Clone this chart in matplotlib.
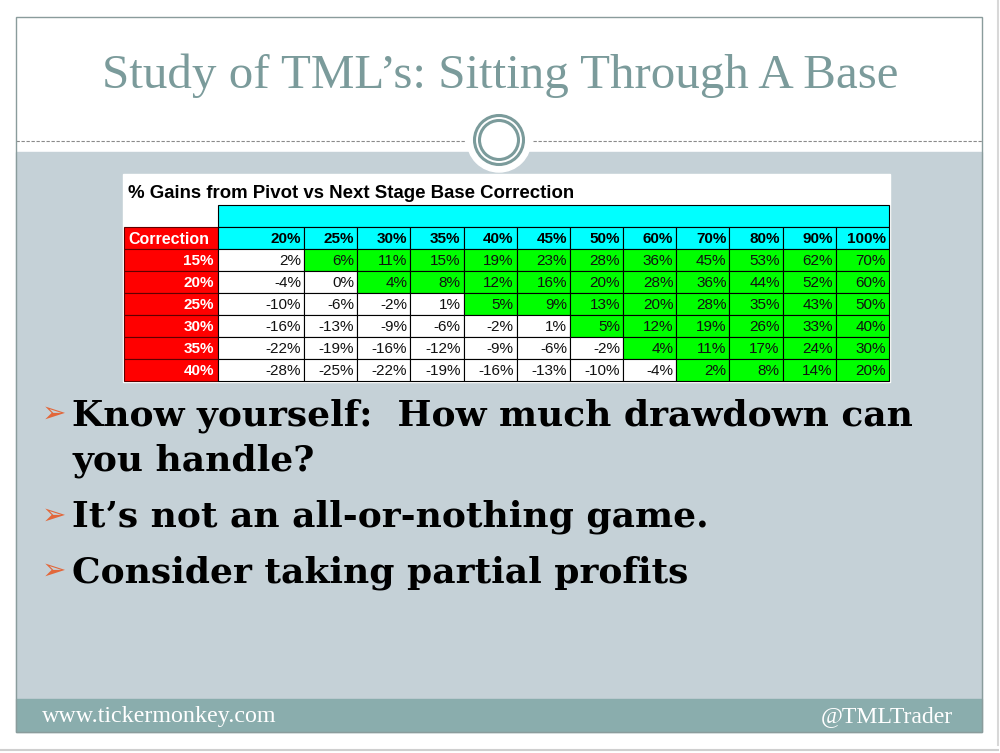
import matplotlib
matplotlib.use("Agg")
import matplotlib.pyplot as plt
from matplotlib.patches import Rectangle, Circle

# ---- data ----
title = "Study of TML\u2019s: Sitting Through A Base"
table_title = "% Gains from Pivot vs Next Stage Base Correction"
gain_cols = ["20%", "25%", "30%", "35%", "40%", "45%", "50%", "60%", "70%", "80%", "90%", "100%"]
correction_rows = ["15%", "20%", "25%", "30%", "35%", "40%"]
gains = [
    [2, 6, 11, 15, 19, 23, 28, 36, 45, 53, 62, 70],
    [-4, 0, 4, 8, 12, 16, 20, 28, 36, 44, 52, 60],
    [-10, -6, -2, 1, 5, 9, 13, 20, 28, 35, 43, 50],
    [-16, -13, -9, -6, -2, 1, 5, 12, 19, 26, 33, 40],
    [-22, -19, -16, -12, -9, -6, -2, 4, 11, 17, 24, 30],
    [-28, -25, -22, -19, -16, -13, -10, -4, 2, 8, 14, 20],
]
# first green column for each row (as shaded on the slide)
green_from = [1, 2, 4, 6, 7, 8]
bullets = [
    ["Know yourself:  How much drawdown can", "you handle?"],
    ["It\u2019s not an all-or-nothing game."],
    ["Consider taking partial profits"],
]
footer_left = "www.tickermonkey.com"
footer_right = "@TMLTrader"

W, H = 1000, 753
fig = plt.figure(figsize=(W / 100, H / 100), dpi=100)
ax = fig.add_axes([0, 0, 1, 1])
ax.set_xlim(0, W)
ax.set_ylim(H, 0)
ax.axis("off")
renderer = fig.canvas.get_renderer()


def fit(t, target_w):
    w = t.get_window_extent(renderer).width
    t.set_fontsize(t.get_fontsize() * target_w / w)


teal = "#7b9b9b"

# slide frame
ax.add_patch(Rectangle((0, 0), W, H, color="white", zorder=0))
ax.plot([998, 998], [0, 745], color="#d8d8d8", lw=1.5, zorder=1)
ax.plot([0, 998], [750, 750], color="#cfcfcf", lw=1.5, zorder=1)
ax.add_patch(Rectangle((16, 152), 966, 547, color="#c5d1d7", zorder=1))
ax.add_patch(Rectangle((16, 699), 966, 33, color="#8aadad", zorder=1))
ax.add_patch(Rectangle((16, 17), 966, 715, fill=False, ec="#8a9c9c", lw=1.0, zorder=5))

# dashed divider with the ring ornament
ax.plot([16, 465], [141, 141], color="#8a8a8a", lw=0.8, ls=(0, (3, 1.5)), zorder=2)
ax.plot([533, 982], [141, 141], color="#8a8a8a", lw=0.8, ls=(0, (3, 1.5)), zorder=2)
ax.add_patch(Circle((499, 140), 32, color="white", zorder=3))
ax.add_patch(Circle((499, 140), 24.5, fill=False, ec=teal, lw=2.2, zorder=4))
ax.add_patch(Circle((499, 140), 19.5, fill=False, ec=teal, lw=2.2, zorder=4))

# title
t = ax.text(500, 88, title, ha="center", va="baseline", color=teal,
            family="Liberation Serif", fontsize=36, zorder=6)
fit(t, 796)

# ---- table ----
tx0, tx1 = 124, 889
label_right = 218
first_right = 304
ncol = len(gain_cols)
col_edges = [label_right, first_right] + [first_right + (tx1 - first_right) * k / (ncol - 1) for k in range(1, ncol)]
row_h = 22
band_top, head_top = 205, 227
data_top = head_top + row_h
cell_fs = 11

ax.add_patch(Rectangle((123, 174), 767, 208, color="white", zorder=6))
tt = ax.text(128, 193, table_title, ha="left", va="center", fontweight="bold",
             family="Liberation Sans", fontsize=12, zorder=8)
fit(tt, 445)

ax.add_patch(Rectangle((label_right, band_top), tx1 - label_right, head_top - band_top,
                       fc="#00ffff", ec="black", lw=0.8, zorder=7))
ax.add_patch(Rectangle((tx0, head_top), label_right - tx0, row_h, fc="#ff0000", ec="#600000", lw=0.8, zorder=7))
ax.text(tx0 + 4, head_top + row_h / 2 + 1, "Correction", ha="left", va="center", color="white",
        fontweight="bold", family="Liberation Sans", fontsize=cell_fs + 0.5, zorder=8)

for j, lab in enumerate(gain_cols):
    x0, x1 = col_edges[j], col_edges[j + 1]
    ax.add_patch(Rectangle((x0, head_top), x1 - x0, row_h, fc="#00ffff", ec="black", lw=0.8, zorder=7))
    ax.text(x1 - 3, head_top + row_h / 2 + 1, lab, ha="right", va="center", fontweight="bold",
            family="Liberation Sans", fontsize=cell_fs, zorder=8)

for i, rlab in enumerate(correction_rows):
    y0 = data_top + i * row_h
    ax.add_patch(Rectangle((tx0, y0), label_right - tx0, row_h, fc="#ff0000", ec="#600000", lw=0.8, zorder=7))
    ax.text(label_right - 4, y0 + row_h / 2 + 1, rlab, ha="right", va="center", color="white",
            fontweight="bold", family="Liberation Sans", fontsize=cell_fs, zorder=8)
    for j, v in enumerate(gains[i]):
        x0, x1 = col_edges[j], col_edges[j + 1]
        fc = "#00ff00" if j >= green_from[i] else "white"
        ax.add_patch(Rectangle((x0, y0), x1 - x0, row_h, fc=fc, ec="black", lw=0.8, zorder=7))
        ax.text(x1 - 3, y0 + row_h / 2 + 1, "%d%%" % v, ha="right", va="center", color="#111111",
                family="Liberation Sans", fontsize=cell_fs, zorder=8)

# ---- bullets ----
baselines = [[425, 470], [527], [582]]
size = None
for lines, ys in zip(bullets, baselines):
    ax.text(42, ys[0] - 11, "\u27a2", ha="left", va="center", color="#e2673a",
            family="DejaVu Sans", fontsize=21, zorder=8)
    for line, y in zip(lines, ys):
        bt = ax.text(72, y, line, ha="left", va="baseline", color="black", fontweight="bold",
                     family="DejaVu Serif", fontsize=26, zorder=8)
        if size is None:
            fit(bt, 843)
            size = bt.get_fontsize()
        else:
            bt.set_fontsize(size)

# footer
fl = ax.text(42, 722, footer_left, ha="left", va="baseline", color="white",
             family="Liberation Serif", fontsize=14, zorder=8)
fit(fl, 236)
fr = ax.text(953, 722, footer_right, ha="right", va="baseline", color="white",
             family="Liberation Serif", fontsize=14, zorder=8)
fit(fr, 133)

fig.savefig("out.png", dpi=100)
